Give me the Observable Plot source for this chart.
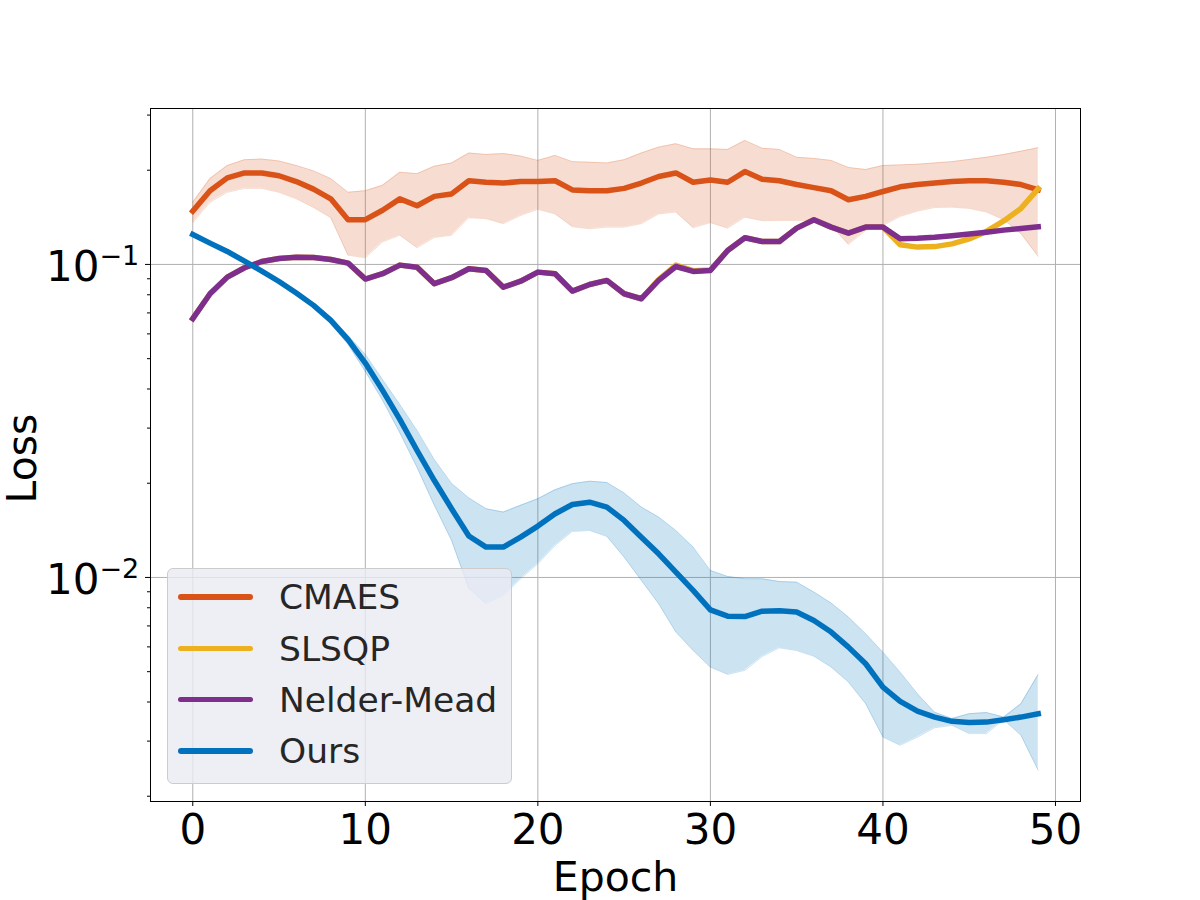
<!DOCTYPE html>
<html>
<head>
<meta charset="utf-8">
<script src="https://cdn.jsdelivr.net/npm/d3@7"></script>
<script src="https://cdn.jsdelivr.net/npm/@observablehq/plot@0.6"></script>
<style>
  html, body { margin: 0; padding: 0; background: #ffffff; overflow: hidden; }
  #wrap { position: relative; width: 1200px; height: 900px; font-family: "DejaVu Sans", sans-serif; }
  #wrap svg { display: block; }
  .legend { position: absolute; left: 167px; top: 568px; width: 345px; height: 216px; box-sizing: border-box;
            border: 1px solid #cccccc; border-radius: 6px; background: rgba(234,234,242,0.8); }
  .swatch { position: absolute; left: 10px; width: 75px; height: 5.5px; border-radius: 3px; }
  .ltext { position: absolute; left: 111px; font-size: 34.5px; line-height: 1; color: #262626; white-space: nowrap; }
</style>
</head>
<body>
<div id="wrap"></div>
<script>
// ---------- data ----------
const epochs = [0,1,2,3,4,5,6,7,8,9,10,11,12,13,14,15,16,17,18,19,20,21,22,23,24,25,26,27,28,29,30,31,32,33,34,35,36,37,38,39,40,41,42,43,44,45,46,47,48,49];

const cmaesMean = [0.148,0.172,0.189,0.196,0.196,0.192,0.184,0.174,0.162,0.139,0.139,0.149,0.162,0.154,0.165,0.168,0.185,0.183,0.182,0.184,0.184,0.185,0.173,0.172,0.172,0.175,0.182,0.191,0.196,0.183,0.186,0.183,0.198,0.187,0.185,0.180,0.176,0.172,0.161,0.165,0.171,0.177,0.180,0.182,0.184,0.185,0.185,0.183,0.180,0.173];
const cmaesHigh = [0.158,0.188,0.207,0.216,0.217,0.214,0.207,0.199,0.188,0.170,0.172,0.179,0.197,0.195,0.206,0.211,0.227,0.2245,0.226,0.222,0.215,0.223,0.213,0.212,0.211,0.216,0.227,0.237,0.243,0.234,0.234,0.233,0.249,0.235,0.233,0.220,0.218,0.215,0.204,0.201,0.207,0.208,0.209,0.211,0.213,0.2165,0.220,0.2245,0.230,0.236];
const cmaesLow = [0.136,0.158,0.170,0.175,0.175,0.170,0.162,0.152,0.141,0.107,0.105,0.118,0.124,0.113,0.122,0.124,0.141,0.140,0.135,0.1434,0.150,0.145,0.132,0.130,0.1316,0.1316,0.135,0.145,0.147,0.131,0.136,0.1306,0.1416,0.138,0.1382,0.1382,0.1383,0.1332,0.1159,0.1284,0.1332,0.1424,0.148,0.152,0.1524,0.151,0.147,0.139,0.1254,0.106];

const slsqpMean = [0.0671,0.0806,0.0911,0.0976,0.1022,0.1045,0.1055,0.1053,0.1037,0.101,0.0898,0.0934,0.0995,0.098,0.0868,0.0907,0.0969,0.0957,0.0846,0.0884,0.0945,0.0934,0.0822,0.0863,0.0889,0.0806,0.0777,0.0895,0.0995,0.0955,0.0960,0.1108,0.1217,0.1184,0.1184,0.1306,0.139,0.1316,0.1259,0.1316,0.1316,0.1156,0.1136,0.1140,0.1163,0.1206,0.1275,0.1377,0.151,0.1745];

const nelderMean = [0.0671,0.0806,0.0911,0.0976,0.1022,0.1045,0.1055,0.1053,0.1037,0.101,0.0898,0.0934,0.0995,0.098,0.0868,0.0907,0.0969,0.0957,0.0846,0.0884,0.0945,0.0934,0.0822,0.0863,0.0889,0.0806,0.0777,0.0889,0.0985,0.095,0.0957,0.1108,0.1217,0.1184,0.1184,0.1306,0.139,0.1316,0.1259,0.1316,0.1316,0.1208,0.1213,0.1222,0.1235,0.125,0.1268,0.1287,0.1303,0.132];

const oursMean = [0.1247,0.117,0.110,0.1024,0.0952,0.0882,0.081,0.074,0.0663,0.0575,0.0484,0.0396,0.0320,0.02545,0.0204,0.01658,0.01357,0.0125,0.0125,0.01345,0.01459,0.01598,0.0171,0.0174,0.01678,0.01521,0.01345,0.0119,0.0104,0.00909,0.00788,0.00752,0.00750,0.0078,0.00783,0.00776,0.00729,0.00669,0.00599,0.0053,0.00446,0.00402,0.00374,0.00358,0.00347,0.00344,0.00345,0.00351,0.00358,0.00367];
const oursHigh = [0.1255,0.1178,0.1108,0.1032,0.0960,0.0892,0.0822,0.0750,0.0679,0.0593,0.0516,0.0429,0.0357,0.0295,0.0238,0.01997,0.01795,0.01658,0.01617,0.0170,0.01784,0.01906,0.01993,0.0203,0.0201,0.01862,0.01678,0.01559,0.01413,0.0125,0.01053,0.01007,0.0099,0.0099,0.0097,0.00966,0.00898,0.00828,0.00747,0.00661,0.00577,0.00498,0.00425,0.00371,0.00354,0.00367,0.00370,0.00358,0.00395,0.0049];
const oursLow = [0.1239,0.1162,0.1092,0.1016,0.0944,0.0872,0.0798,0.0729,0.0646,0.0555,0.0455,0.0368,0.0290,0.02246,0.0170,0.01313,0.00922,0.00824,0.00876,0.0099,0.01106,0.01265,0.01403,0.01413,0.01352,0.01161,0.00978,0.00824,0.00669,0.00584,0.00517,0.0049,0.00505,0.00559,0.00596,0.00584,0.0056,0.00517,0.00463,0.00395,0.00309,0.00291,0.00309,0.00331,0.00337,0.00317,0.00317,0.00351,0.00313,0.00242];

const seriesNames = ["CMAES", "SLSQP", "Nelder-Mead", "Ours"];
const seriesColors = ["#D95319", "#EDB120", "#7E2F8E", "#0072BD"];

const xTicks = [0, 10, 20, 30, 40, 50];
const yMajor = [0.1, 0.01];
const yMajorExp = ["\u22121", "\u22122"];
const yMinor = [0.002,0.003,0.004,0.005,0.006,0.007,0.008,0.009,0.02,0.03,0.04,0.05,0.06,0.07,0.08,0.09,0.2,0.3];

// ---------- tables ----------
const table = (mean, lo, hi) => epochs.map((e, i) => ({epoch: e, mean: mean[i], lo: lo ? lo[i] : null, hi: hi ? hi[i] : null}));
const cm = table(cmaesMean, cmaesLow, cmaesHigh);
const sl = table(slsqpMean);
const nm = table(nelderMean);
const ou = table(oursMean, oursLow, oursHigh);

const LW = 5.5;
const band = (rows, color) => [
  Plot.areaY(rows, {x: "epoch", y1: "lo", y2: "hi", fill: color, fillOpacity: 0.2}),
  Plot.line(rows, {x: "epoch", y: "hi", stroke: color, strokeOpacity: 0.2, strokeWidth: 1}),
  Plot.line(rows, {x: "epoch", y: "lo", stroke: color, strokeOpacity: 0.2, strokeWidth: 1})
];
const mainLine = (rows, color) => Plot.line(rows, {x: "epoch", y: "mean", stroke: color, strokeWidth: LW, strokeLinejoin: "round", strokeLinecap: "square"});

const chart = Plot.plot({
  width: 1200,
  height: 900,
  marginLeft: 150,
  marginRight: 120,
  marginTop: 108,
  marginBottom: 99,
  style: {fontFamily: "DejaVu Sans", background: "white", color: "black", overflow: "visible"},
  x: {type: "linear", domain: [-2.45, 51.45]},
  y: {type: "log", domain: [0.001924, 0.3149]},
  marks: [
    Plot.gridX(xTicks, {stroke: "#b0b0b0", strokeOpacity: 1, strokeWidth: 1}),
    Plot.gridY(yMajor, {stroke: "#b0b0b0", strokeOpacity: 1, strokeWidth: 1}),
    ...band(cm, seriesColors[0]),
    mainLine(cm, seriesColors[0]),
    mainLine(sl, seriesColors[1]),
    mainLine(nm, seriesColors[2]),
    ...band(ou, seriesColors[3]),
    mainLine(ou, seriesColors[3]),
    Plot.frame({stroke: "black", strokeWidth: 1}),
    Plot.axisX(xTicks, {tickSize: 5, tickFormat: () => "", label: null}),
    Plot.axisY(yMajor, {tickSize: 5, tickFormat: () => "", label: null}),
    Plot.axisY(yMinor, {tickSize: 3, tickFormat: () => "", label: null}),
    Plot.text(xTicks, {x: d => d, text: d => String(d), frameAnchor: "bottom", lineAnchor: "bottom", dy: 42, fontSize: 42, fill: "black"}),
    Plot.text(yMajor, {y: d => d, text: () => "10", frameAnchor: "left", lineAnchor: "bottom", textAnchor: "end", dx: -51, dy: 17, fontSize: 42, fill: "black"}),
    Plot.text(yMajor, {y: d => d, text: (d, i) => yMajorExp[i], frameAnchor: "left", lineAnchor: "bottom", textAnchor: "start", dx: -51, dy: 1, fontSize: 27, fill: "black"}),
    Plot.text(["Epoch"], {text: d => d, frameAnchor: "bottom", lineAnchor: "bottom", dy: 89, fontSize: 41, fill: "black"}),
    Plot.text(["Loss"], {text: d => d, frameAnchor: "left", textAnchor: "middle", lineAnchor: "bottom", rotate: -90, dx: -115, dy: 3.5, fontSize: 41, fill: "black"})
  ]
});

const wrap = document.getElementById("wrap");
wrap.appendChild(chart);

// ---------- legend ----------
const legend = document.createElement("div");
legend.className = "legend";
seriesNames.forEach((name, i) => {
  const cy = 28 + 51.3 * i;
  const sw = document.createElement("div");
  sw.className = "swatch";
  sw.style.top = (cy - 2.75) + "px";
  sw.style.background = seriesColors[i];
  const tx = document.createElement("div");
  tx.className = "ltext";
  tx.style.top = (cy - 16.6) + "px";
  tx.textContent = name;
  legend.appendChild(sw);
  legend.appendChild(tx);
});
wrap.appendChild(legend);
</script>
</body>
</html>
